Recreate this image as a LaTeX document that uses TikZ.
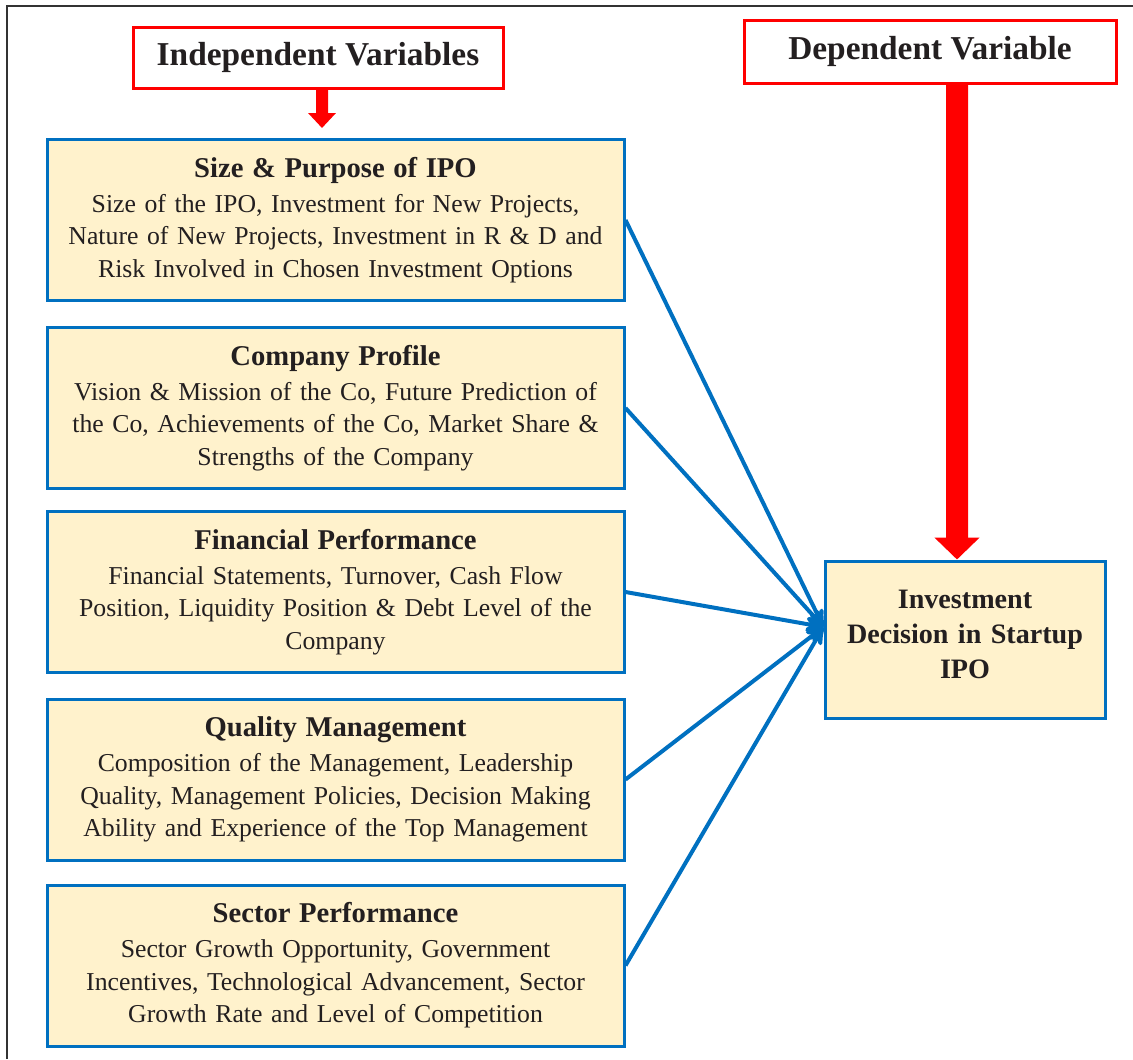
\documentclass[tikz,border=0pt]{standalone}
\usepackage{fontspec}
\setmainfont{Liberation Serif}
\usepackage{tikz}
\usetikzlibrary{calc}
\usetikzlibrary{positioning,arrows.meta}
\usetikzlibrary{arrows}

\definecolor{boxblue}{RGB}{0,112,192}
\definecolor{boxfill}{RGB}{255,242,204}
\definecolor{txt}{RGB}{35,31,32}

\newcommand{\vartitle}[1]{{\fontsize{16.3}{18.5}\selectfont\bfseries #1}\\[1.5pt]}

\begin{document}
\begin{tikzpicture}[>=stealth',shorten >=0pt,
	var node/.style={rectangle,draw=boxblue,line width=0.06cm,fill=boxfill,text=txt,
		text width=11.3cm,minimum width=11.54cm,minimum height=3.22cm,align=center,
		font=\fontsize{14.65}{18.5}\selectfont},
	head node/.style={rectangle,draw=red,line width=0.06cm,fill=white,text=txt,
		font=\fontsize{19}{22}\selectfont\bfseries},
	link/.style={->,draw=boxblue,line width=0.08cm}]
	
	\useasboundingbox (0,0) rectangle (22.66,-21.18);
	\draw[line width=0.03cm,black!80] (0.14,-21.18) |- (22.66,-0.12);
	
	\node[head node, minimum width=7.4cm, minimum height=1.22cm] (indep) at (6.36,-1.15) {Independent Variables};
	\node[head node, minimum width=7.44cm, minimum height=1.26cm] (dep) at (18.6,-1.03) {Dependent Variable};
	
	\node[var node] (size) at (6.71,-4.40) {\vartitle{Size \& Purpose of IPO}
		Size of the IPO, Investment for New Projects,\\
		Nature of New Projects, Investment in R \& D and\\
		Risk Involved in Chosen Investment Options};
	\node[var node] (profile) at (6.71,-8.16) {\vartitle{Company Profile}
		Vision \& Mission of the Co, Future Prediction of\\
		the Co, Achievements of the Co, Market Share \&\\
		Strengths of the Company};
	\node[var node] (finance) at (6.71,-11.84) {\vartitle{Financial Performance}
		Financial Statements, Turnover, Cash Flow\\
		Position, Liquidity Position \& Debt Level of the\\
		Company};
	\node[var node] (quality) at (6.71,-15.59) {\vartitle{Quality Management}
		Composition of the Management, Leadership\\
		Quality, Management Policies, Decision Making\\
		Ability and Experience of the Top Management};
	\node[var node] (sector) at (6.71,-19.31) {\vartitle{Sector Performance}
		Sector Growth Opportunity, Government\\
		Incentives, Technological Advancement, Sector\\
		Growth Rate and Level of Competition};
	
	\node[var node, text width=5.2cm, minimum width=5.6cm, minimum height=3.14cm,
		font=\fontsize{16}{20}\selectfont\bfseries] (invest) at (19.30,-12.79)
		{Investment\\ Decision in Startup\\ IPO\\[-14pt]\mbox{}};
	
	\coordinate (hub) at ([yshift=0.25cm]invest.west);
	
	\draw[red, line width=0.24cm, -{Triangle[width=0.54cm,length=0.3cm]}, shorten >=0.2cm]
		([xshift=0.08cm]indep.south) -- ([xshift=-0.27cm]size.north);
	\draw[red, line width=0.44cm, -{Triangle[width=0.88cm,length=0.44cm]}]
		([xshift=0.54cm]dep.south) -- ([xshift=-0.16cm]invest.north);
	
	\path
	(size.east) edge[link] (hub)
	(profile.east) edge[link] (hub)
	(finance.east) edge[link] (hub)
	(quality.east) edge[link] (hub)
	(sector.east) edge[link] (hub);
	
\end{tikzpicture}
\end{document}
